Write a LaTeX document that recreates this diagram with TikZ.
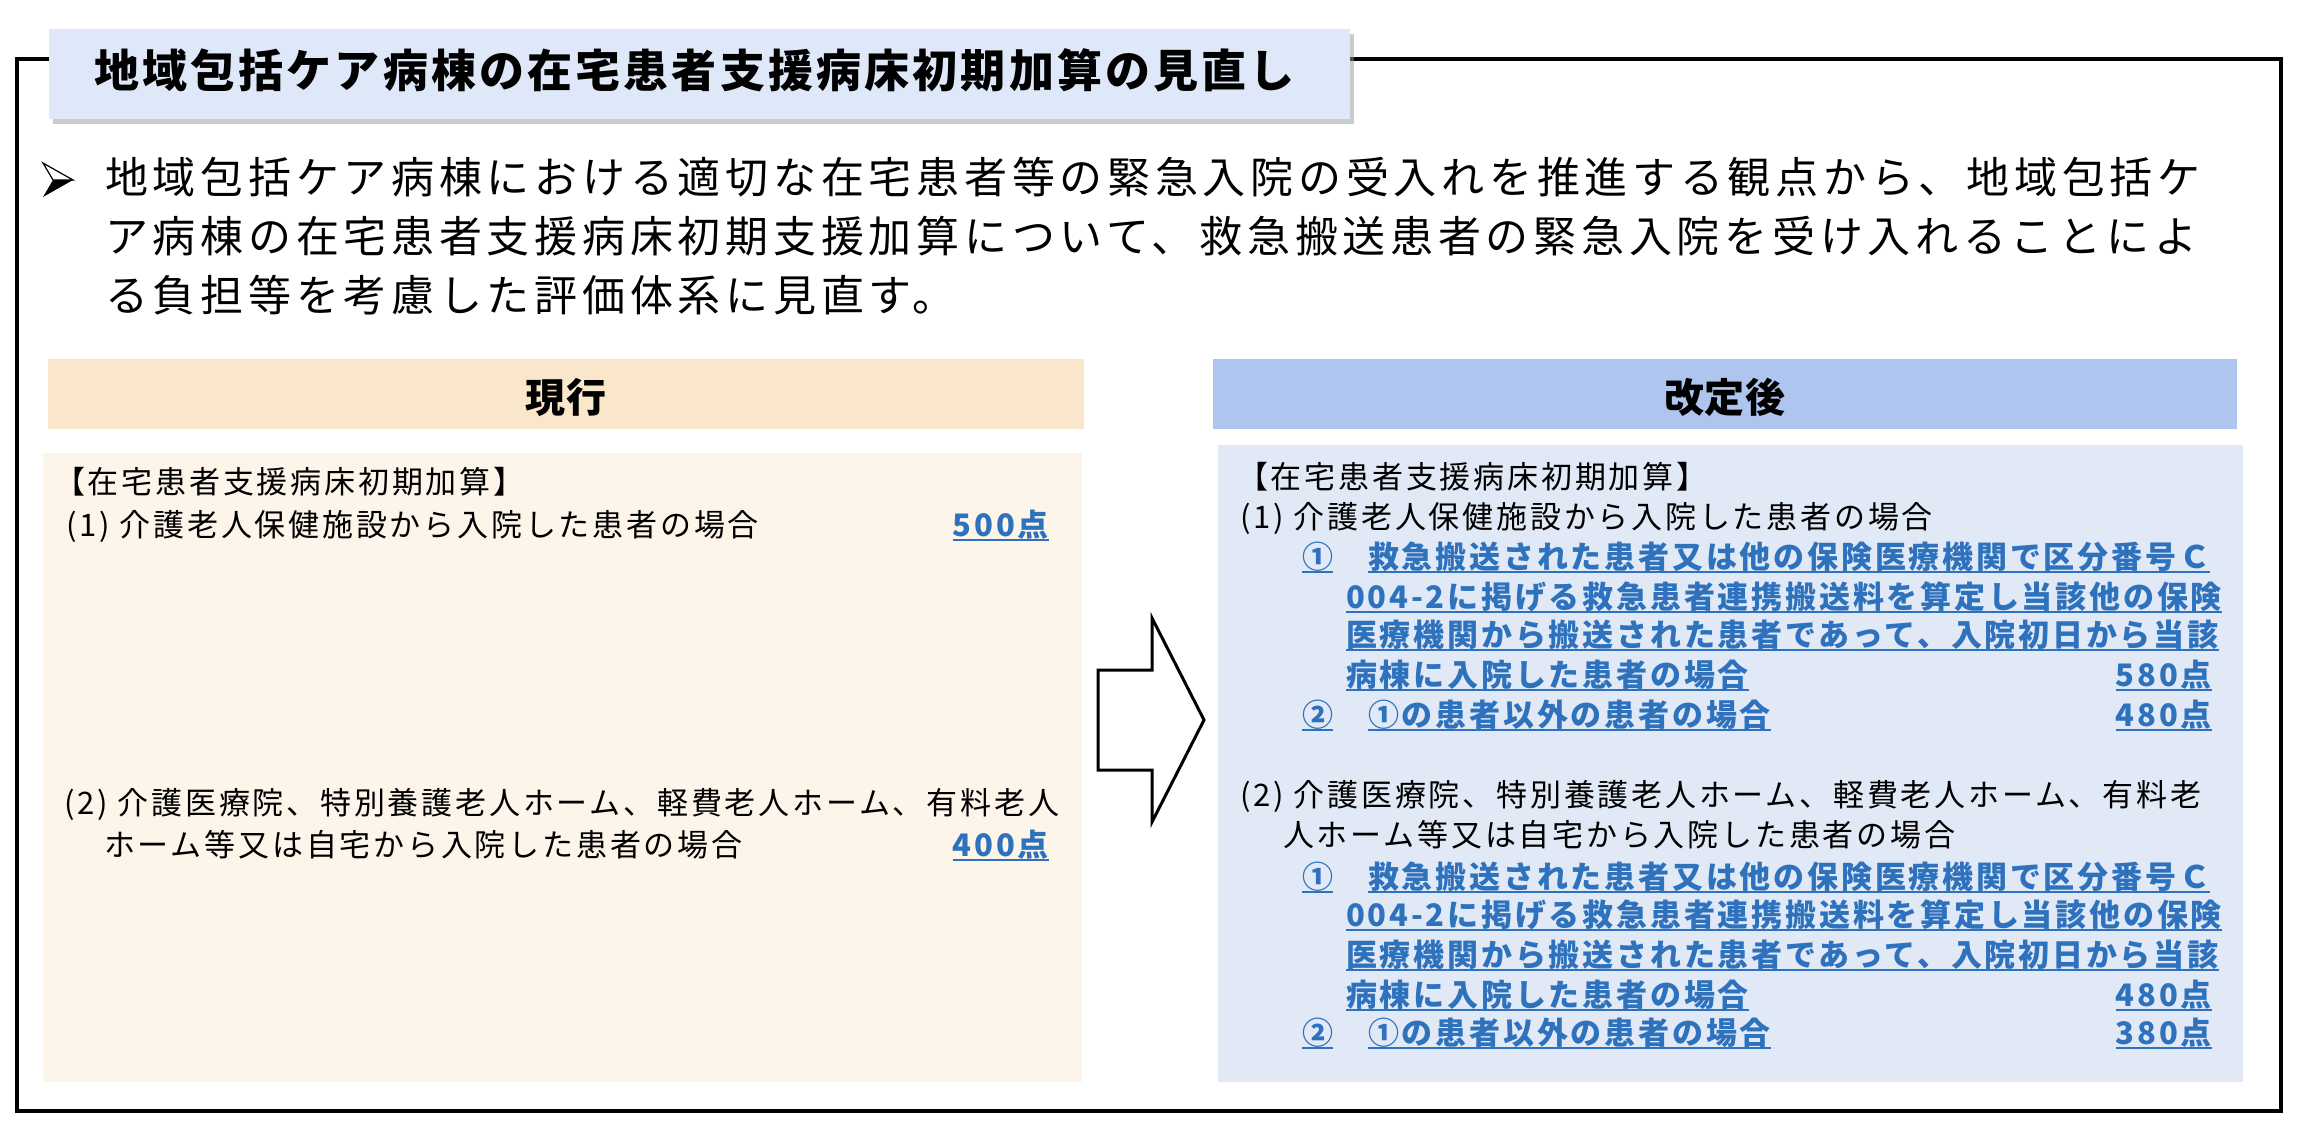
\documentclass[tikz,border=0pt]{standalone}
\usepackage{fontspec}
\newfontfamily\jpT{Noto Sans CJK JP}[LetterSpace=7]
\newfontfamily\jpB{Noto Sans CJK JP}[LetterSpace=11]
\newfontfamily\jpS{Noto Sans CJK JP}[LetterSpace=9]
\newfontfamily\jpH{Noto Sans CJK JP}[LetterSpace=2]
\usetikzlibrary{shadows}
\definecolor{titlefill}{HTML}{DEE8F8}
\definecolor{hdrA}{HTML}{FAE7CB}
\definecolor{boxA}{HTML}{FDF4EA}
\definecolor{hdrB}{HTML}{AEC5F0}
\definecolor{boxB}{HTML}{E2E9F6}
\definecolor{bluetxt}{HTML}{2E72BD}
\newcommand\ulnode[1]{\draw[ul] ([yshift=-3pt]#1.base west) -- ([yshift=-3pt]#1.base east);}
\begin{document}
\begin{tikzpicture}[x=1pt,y=-1pt,
  txt/.style={inner sep=0pt, anchor=base west},
  rtxt/.style={inner sep=0pt, anchor=base east},
  titletxt/.style={txt, font=\jpT\bfseries\fontsize{45}{52}\selectfont},
  bodytxt/.style={txt, font=\jpB\fontsize{43}{50}\selectfont},
  hdrtxt/.style={inner sep=0pt, anchor=base, font=\jpH\bfseries\fontsize{40}{48}\selectfont},
  boxtxt/.style={txt, font=\jpS\fontsize{31}{36}\selectfont},
  bluetext/.style={txt, text=bluetxt, font=\jpS\bfseries\fontsize{31}{36}\selectfont},
  bluept/.style={rtxt, text=bluetxt, font=\jpS\bfseries\fontsize{31}{36}\selectfont},
  ul/.style={draw=bluetxt, line width=2pt},
  frame/.style={draw=black, line width=3.5pt, fill=white,
    drop shadow={shadow xshift=2pt, shadow yshift=-2pt, fill=black!45, opacity=0.6}},
  titlebox/.style={fill=titlefill,
    drop shadow={shadow xshift=4pt, shadow yshift=-5pt, fill=black!40, opacity=0.5}},
  arrowshape/.style={draw=black, line width=3pt, fill=white, line join=miter}
]
\useasboundingbox (0,0) rectangle (2300,1128);
\fill[white] (0,0) rectangle (2300,1128);

% outer frame
\path[frame] (17,59) rectangle (2281,1111);

% title
\path[titlebox] (49,29) rectangle (1350,119);
\node[titletxt] (title) at (94,87) {地域包括ケア病棟の在宅患者支援病床初期加算の見直し};

% bullet
\draw[line width=1.2pt, line join=miter] (43,163) -- (73,180) -- (53,180) -- cycle;
\fill (53,180) -- (73,180) -- (43,197) -- cycle;

\node[bodytxt] (b1) at (105,193) {地域包括ケア病棟における適切な在宅患者等の緊急入院の受入れを推進する観点から、地域包括ケ};
\node[bodytxt] (b2) at (105,252) {ア病棟の在宅患者支援病床初期支援加算について、救急搬送患者の緊急入院を受け入れることによ};
\node[bodytxt] (b3) at (105,311) {る負担等を考慮した評価体系に見直す。};

% headers
\fill[hdrA] (48,359) rectangle (1084,429);
\node[hdrtxt] (hA) at (566,412) {現行};
\fill[hdrB] (1213,359) rectangle (2237,429);
\node[hdrtxt] (hB) at (1725,412) {改定後};

% boxes
\fill[boxA] (43,453) rectangle (1082,1082);
\fill[boxB] (1218,445) rectangle (2243,1082);

% arrow
\draw[arrowshape] (1098,670) -- (1152,670) -- (1152,618) -- (1204,720) -- (1152,822) -- (1152,770) -- (1098,770) -- cycle;

% left box
\node[boxtxt] (la) at (54,493.8) {【在宅患者支援病床初期加算】};
\node[boxtxt] (lb) at (66,536.8) {(1) 介護老人保健施設から入院した患者の場合};
\node[bluept] (lp1) at (1049,536.8) {500点};
\ulnode{lp1}
\node[boxtxt] (lc) at (64,814.8) {(2) 介護医療院、特別養護老人ホーム、軽費老人ホーム、有料老人};
\node[boxtxt] (ld) at (104,856.8) {ホーム等又は自宅から入院した患者の場合};
\node[bluept] (lp2) at (1049,856.8) {400点};
\ulnode{lp2}

% right box
\node[boxtxt] (ra) at (1237,488.8) {【在宅患者支援病床初期加算】};
\node[boxtxt] (rb) at (1240,528.8) {(1) 介護老人保健施設から入院した患者の場合};
\node[bluetext] (c1) at (1302,568.8) {①};
\node[bluetext] (t1) at (1368,568.8) {救急搬送された患者又は他の保険医療機関で区分番号Ｃ};
\node[bluetext] (t2) at (1346,608.8) {004-2に掲げる救急患者連携搬送料を算定し当該他の保険};
\node[bluetext] (t3) at (1346,646.8) {医療機関から搬送された患者であって、入院初日から当該};
\node[bluetext] (t4) at (1346,686.8) {病棟に入院した患者の場合};
\node[bluept] (p3) at (2212,686.8) {580点};
\node[bluetext] (c2) at (1302,726.8) {②};
\node[bluetext] (t5) at (1368,726.8) {①の患者以外の患者の場合};
\node[bluept] (p4) at (2212,726.8) {480点};
\foreach \n in {c1,t1,t2,t3,t4,p3,c2,t5,p4} {\ulnode{\n}}

\node[boxtxt] (rc) at (1240,806.8) {(2) 介護医療院、特別養護老人ホーム、軽費老人ホーム、有料老};
\node[boxtxt] (rd) at (1283,846.8) {人ホーム等又は自宅から入院した患者の場合};
\node[bluetext] (c3) at (1302,888.8) {①};
\node[bluetext] (t6) at (1368,888.8) {救急搬送された患者又は他の保険医療機関で区分番号Ｃ};
\node[bluetext] (t7) at (1346,926.8) {004-2に掲げる救急患者連携搬送料を算定し当該他の保険};
\node[bluetext] (t8) at (1346,966.8) {医療機関から搬送された患者であって、入院初日から当該};
\node[bluetext] (t9) at (1346,1006.8) {病棟に入院した患者の場合};
\node[bluept] (p5) at (2212,1006.8) {480点};
\node[bluetext] (c4) at (1302,1044.8) {②};
\node[bluetext] (t10) at (1368,1044.8) {①の患者以外の患者の場合};
\node[bluept] (p6) at (2212,1044.8) {380点};
\foreach \n in {c3,t6,t7,t8,t9,p5,c4,t10,p6} {\ulnode{\n}}
\end{tikzpicture}
\end{document}
